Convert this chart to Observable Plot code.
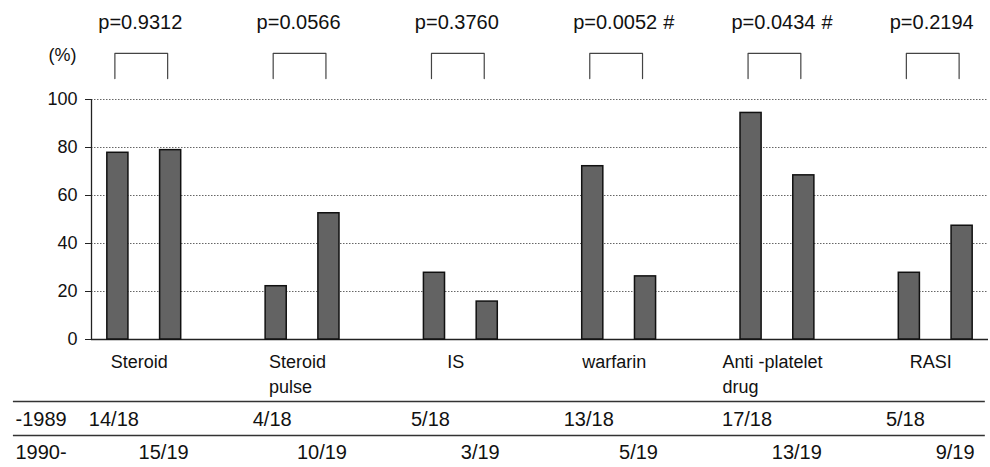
<!DOCTYPE html>
<html>
<head>
<meta charset="utf-8">
<script src="https://cdn.jsdelivr.net/npm/d3@7"></script>
<script src="https://cdn.jsdelivr.net/npm/@observablehq/plot@0.6"></script>
<style>
  html, body { margin: 0; padding: 0; background: #fff; }
  #chart svg { display: block; }
</style>
</head>
<body>
<div id="chart"></div>
<script>
// ---- data ----
const categories = ["Steroid", "Steroid\npulse", "IS", "warfarin", "Anti -platelet\ndrug", "RASI"];
const pValues = ["p=0.9312", "p=0.0566", "p=0.3760", "p=0.0052", "p=0.0434", "p=0.2194"];
const significant = [false, false, false, true, true, false];
const periods = ["-1989", "1990-"];
const before1989 = [77.8, 22.2, 27.8, 72.2, 94.4, 27.8];   // %
const after1990 = [78.9, 52.6, 15.8, 26.3, 68.4, 47.4];    // %
const countsBefore = ["14/18", "4/18", "5/18", "13/18", "17/18", "5/18"];
const countsAfter = ["15/19", "10/19", "3/19", "5/19", "13/19", "9/19"];
const yTicks = [0, 20, 40, 60, 80, 100];

// ---- derived tables ----
const groups = categories.map((c, i) => ({i, label: c, p: pValues[i], sig: significant[i]}));
const bars = [];
categories.forEach((c, i) => {
  bars.push({slot: 3 * i, value: before1989[i], count: countsBefore[i]});
  bars.push({slot: 3 * i + 1, value: after1990[i], count: countsAfter[i]});
});
const BR_TOP = 119.2, BR_BOTTOM = 108.7;
const brackets = groups.flatMap(g => [
  {g: g.i, x: 3 * g.i, y: BR_BOTTOM},
  {g: g.i, x: 3 * g.i, y: BR_TOP},
  {g: g.i, x: 3 * g.i + 1, y: BR_TOP},
  {g: g.i, x: 3 * g.i + 1, y: BR_BOTTOM}
]);

const font = "'Liberation Sans', Arial, Helvetica, sans-serif";

const chart = Plot.plot({
  width: 990,
  height: 467,
  marginTop: 99,
  marginBottom: 128,
  marginLeft: 91,
  marginRight: 2,
  x: {domain: [-0.5, 16.5], axis: null},
  y: {domain: [0, 100], axis: null},
  style: {fontFamily: font, fontSize: "18px", color: "#111", background: "#fff", overflow: "visible"},
  marks: [
    // gridlines
    Plot.ruleY(yTicks.filter(d => d > 0), {stroke: "#666", strokeWidth: 1, strokeDasharray: "1.5,1.5"}),
    // axis line + baseline
    Plot.ruleX([-0.5], {y1: 0, y2: 100, stroke: "#222", strokeWidth: 1.3}),
    Plot.ruleY([0], {stroke: "#222", strokeWidth: 1.3}),
    Plot.axisY({ticks: yTicks, tickSize: 6, tickPadding: 8, label: null, fontSize: 18, stroke: "#222"}),
    // bars
    Plot.rect(bars, {
      x1: d => d.slot - 0.2, x2: d => d.slot + 0.2, y1: 0, y2: "value",
      fill: "#636363", stroke: "#111", strokeWidth: 1.5
    }),
    // (%) label
    Plot.text(["(%)"], {frameAnchor: "top-left", lineAnchor: "middle", dx: -43, dy: -44, fontSize: 18, fill: "#111"}),
    // brackets
    Plot.line(brackets, {x: "x", y: "y", z: "g", dx: -3, stroke: "#444", strokeWidth: 1.2, curve: "linear"}),
    // p-values
    Plot.text(groups, {x: d => 3 * d.i + 0.5, text: "p", frameAnchor: "top", lineAnchor: "middle", dy: -77, dx: -4, fontSize: 20, fill: "#111"}),
    Plot.text(groups.filter(d => d.sig), {x: d => 3 * d.i + 0.5, text: () => "#", frameAnchor: "top", lineAnchor: "middle", dy: -77, dx: 44, textAnchor: "start", fontSize: 20, fill: "#111"}),
    // category labels
    Plot.text(groups, {
      x: d => 3 * d.i + 0.5, text: "label", frameAnchor: "bottom", lineAnchor: "top",
      dy: 11, dx: -5, fontSize: 18, lineHeight: 1.39, fill: "#111", className: "cat-label"
    }),
    // table rules
    Plot.ruleY([0], {x1: -1.98, x2: 16.44, dy: 62, stroke: "#333", strokeWidth: 1.3}),
    Plot.ruleY([0], {x1: -1.98, x2: 16.44, dy: 96, stroke: "#333", strokeWidth: 1.3}),
    // table row headers
    Plot.text([periods[0]], {frameAnchor: "bottom-left", lineAnchor: "middle", textAnchor: "start", dx: -76, dy: 80, fontSize: 20, fill: "#111"}),
    Plot.text([periods[1]], {frameAnchor: "bottom-left", lineAnchor: "middle", textAnchor: "start", dx: -76, dy: 113, fontSize: 20, fill: "#111"}),
    // table counts
    Plot.text(bars.filter(d => d.slot % 3 === 0), {x: "slot", text: "count", frameAnchor: "bottom", lineAnchor: "middle", dy: 80, dx: -4, fontSize: 20, fill: "#111"}),
    Plot.text(bars.filter(d => d.slot % 3 === 1), {x: "slot", text: "count", frameAnchor: "bottom", lineAnchor: "middle", dy: 113, dx: -7, fontSize: 20, fill: "#111"})
  ]
});

document.getElementById("chart").append(chart);

// left-align the second line of two-line category labels with the first line
d3.select(chart).selectAll("g.cat-label text").each(function() {
  const tspans = this.querySelectorAll("tspan");
  if (tspans.length > 1) {
    const w1 = tspans[0].getComputedTextLength();
    for (let k = 1; k < tspans.length; k++) {
      const w = tspans[k].getComputedTextLength();
      tspans[k].setAttribute("x", (-w1 / 2 + w / 2).toFixed(1));
    }
  }
});
</script>
</body>
</html>
